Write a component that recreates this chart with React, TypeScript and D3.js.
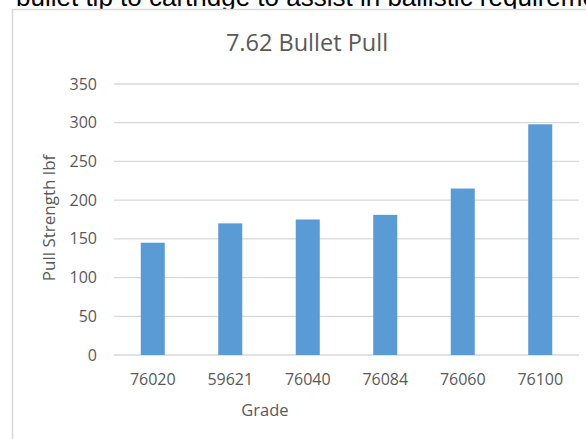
import * as d3 from 'd3';

const grades = ['76020', '59621', '76040', '76084', '76060', '76100'];
const pullStrength = [145, 170, 175, 181, 215, 298];
const yTicks = [0, 50, 100, 150, 200, 250, 300, 350];

const width = 586;
const height = 439;
const plotLeft = 114;
const plotRight = 579;
const plotTop = 84;
const plotBottom = 355;

const textColor = '#595959';
const gridColor = '#d9d9d9';
const barColor = '#5b9bd5';
const font = '"Open Sans", sans-serif';

export default function App() {
    // scales
    const x = d3.scaleBand<string>()
        .domain(grades)
        .range([plotLeft, plotRight])
        .paddingInner(0.69)
        .paddingOuter(0.345);
    const y = d3.scaleLinear()
        .domain([0, 350])
        .range([plotBottom, plotTop]);

    const gridLines = yTicks.map((t) => (
        <g key={t} transform={`translate(0, ${y(t)})`}>
            <line x1={plotLeft} x2={plotRight} stroke={gridColor} strokeWidth={1.3} />
            <text x={97} dy="0.35em" textAnchor="end" fill={textColor} style={{ font: `16px ${font}` }}>
                {t}
            </text>
        </g>
    ));

    const bars = grades.map((g, i) => (
        <rect
            key={g}
            x={x(g)}
            y={y(pullStrength[i])}
            width={x.bandwidth()}
            height={y(0) - y(pullStrength[i])}
            fill={barColor}
        />
    ));

    const xLabels = grades.map((g) => (
        <text
            key={g}
            x={(x(g) || 0) + x.bandwidth() / 2}
            y={385}
            textAnchor="middle"
            fill={textColor}
            style={{ font: `16px ${font}` }}
        >
            {g}
        </text>
    ));

    return (
        <svg width={width} height={height} style={{ position: 'absolute', left: 0, top: 0, background: 'white' }}>
            {/* tail of the paragraph above the chart, cut by the page edge */}
            <text x={16} y={6} fill="#000" style={{ font: '26px "Liberation Sans", Arial, sans-serif' }}>
                bullet tip to cartridge to assist in ballistic requirements
            </text>
            <rect x={12.5} y={9.5} width={600} height={460} fill="white" stroke={gridColor} strokeWidth={1.5} />
            <text x={307} y={51} textAnchor="middle" fill={textColor} style={{ font: `23.5px ${font}` }}>
                7.62 Bullet Pull
            </text>
            {gridLines}
            {bars}
            {xLabels}
            <text x={265} y={416} textAnchor="middle" fill={textColor} style={{ font: `16.5px ${font}` }}>
                Grade
            </text>
            <text
                transform={`translate(55, 218) rotate(-90)`}
                textAnchor="middle"
                fill={textColor}
                style={{ font: `17px ${font}` }}
            >
                Pull Strength lbf
            </text>
        </svg>
    );
}
